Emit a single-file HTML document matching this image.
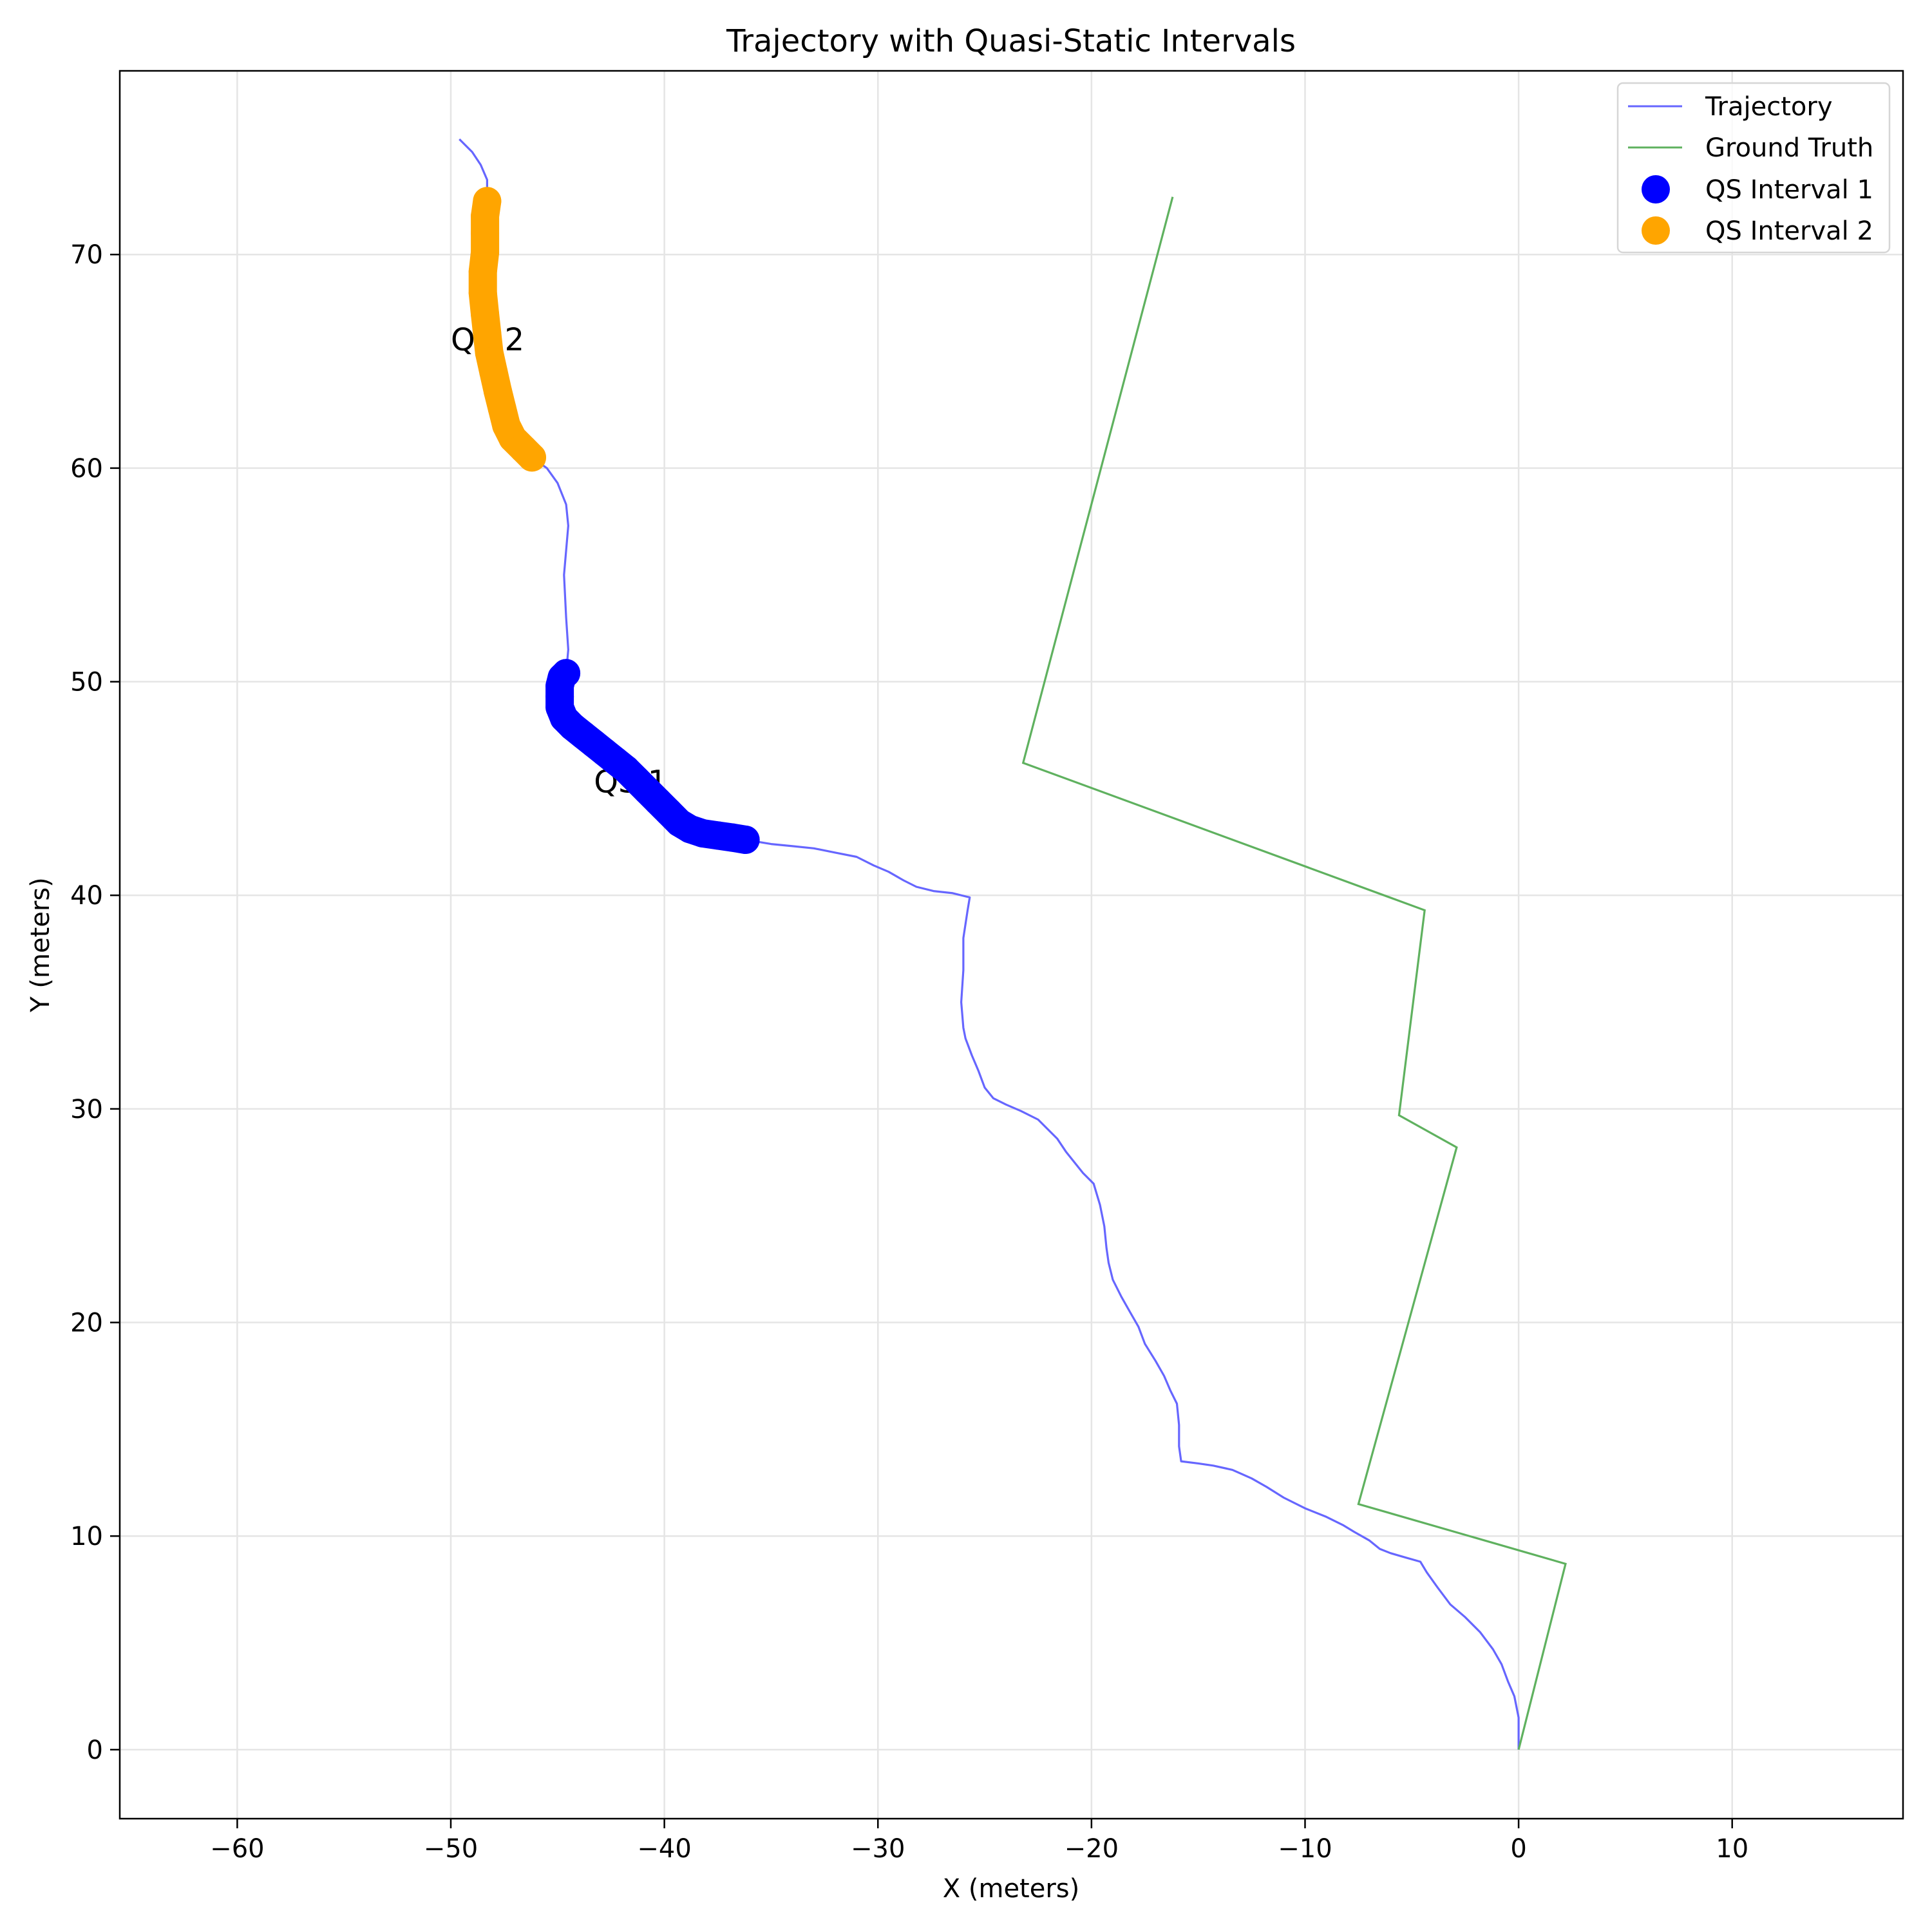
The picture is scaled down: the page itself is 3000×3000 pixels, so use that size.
<!DOCTYPE html>
<html><head><meta charset="utf-8">
<style>
html,body{margin:0;padding:0;background:#fff;}
svg{display:block;}
text{font-family:"DejaVu Sans","Liberation Sans",sans-serif;}
</style></head>
<body>
<svg id="chart" xmlns="http://www.w3.org/2000/svg" width="3000" height="3000" viewBox="0 0 3000 3000">
<rect width="3000" height="3000" fill="#fff"/>
<g id="grid"></g>
<g id="plot"></g>
<rect x="186" y="110" width="2769" height="2714" fill="none" stroke="#000" stroke-width="2.5"/>
<g id="axes"></g>
<text x="1570" y="80" font-size="48" text-anchor="middle">Trajectory with Quasi-Static Intervals</text>
<text x="1570" y="2946" font-size="40" text-anchor="middle">X (meters)</text>
<text x="76" y="1467" font-size="40" text-anchor="middle" transform="rotate(-90 76 1467)">Y (meters)</text>
<g>
<rect x="2512" y="129" width="422" height="263" rx="8" fill="#fff" fill-opacity="0.8" stroke="#d6d6d6" stroke-width="2.5"/>
<line x1="2528" y1="165" x2="2612" y2="165" stroke="#6666ff" stroke-width="3"/>
<text x="2648" y="179" font-size="40">Trajectory</text>
<line x1="2528" y1="229" x2="2612" y2="229" stroke="#5fb15f" stroke-width="3"/>
<text x="2648" y="243" font-size="40">Ground Truth</text>
<circle cx="2571" cy="294" r="22" fill="#0000ff"/>
<text x="2648" y="308" font-size="40">QS Interval 1</text>
<circle cx="2571" cy="358" r="22" fill="#ffa500"/>
<text x="2648" y="372" font-size="40">QS Interval 2</text>
</g>
</svg>
<script>
const xTicks=[-60,-50,-40,-30,-20,-10,0,10];
const yTicks=[0,10,20,30,40,50,60,70];
const trajX=[0,0,-0.2,-0.5,-0.8,-1.2,-1.8,-2.5,-3.2,-3.8,-4.3,-4.6,-5.3,-6,-6.5,-7,-7.7,-8.2,-9,-10,-11,-11.8,-12.5,-13.4,-14.3,-15,-15.8,-15.9,-15.9,-16,-16.3,-16.6,-17,-17.5,-17.8,-18.2,-18.6,-19,-19.2,-19.3,-19.4,-19.6,-19.9,-20.4,-20.8,-21.2,-21.6,-22,-22.5,-23.3,-24,-24.6,-25,-25.3,-25.6,-25.9,-26,-26.1,-26,-26,-25.8,-25.7,-26.5,-27.4,-28.2,-28.8,-29.5,-30.2,-31,-32,-33,-34,-35,-36.2,-37,-38,-39,-40,-41,-42,-43,-44,-44.8,-44.9,-44.6,-44.5,-44.6,-44.7,-44.5,-44.6,-45,-45.5,-46.2,-47,-47.5,-47.8,-48.2,-48.4,-48.5,-48.4,-48.4,-48.3,-48.3,-48.6,-49,-49.6];
const trajY=[0,1.5,2.5,3.2,4,4.7,5.5,6.2,6.8,7.6,8.3,8.8,9,9.2,9.4,9.8,10.2,10.5,10.9,11.3,11.8,12.3,12.7,13.1,13.3,13.4,13.5,14.2,15.2,16.2,16.8,17.5,18.2,19,19.8,20.5,21.2,22,22.8,23.5,24.5,25.5,26.5,27,27.5,28,28.6,29,29.5,29.9,30.2,30.5,31,31.8,32.5,33.3,33.8,35,36.5,38,39.3,39.9,40.1,40.2,40.4,40.7,41.1,41.4,41.8,42,42.2,42.3,42.4,42.6,42.8,43,43.4,44.2,45.2,46.1,47,47.8,48.5,49.3,50.4,51.5,53,55,57.3,58.3,59.3,60,60.5,61.2,62,63.5,65,66.5,68,70,71.5,72.5,73.5,74.2,74.8,75.4];
const gtX=[0,2.2,-7.5,-2.9,-5.6,-4.4,-23.2,-16.2];
const gtY=[0,8.7,11.5,28.2,29.7,39.3,46.2,72.7];
const qs1X=[-36.2,-36.8,-37.5,-38.2,-38.8,-39.3,-39.8,-40.3,-40.8,-41.3,-41.8,-42.3,-42.8,-43.3,-43.8,-44.3,-44.7,-44.9,-44.9,-44.9,-44.8,-44.6];
const qs1Y=[42.6,42.7,42.8,42.9,43.1,43.4,43.9,44.4,44.9,45.4,45.9,46.3,46.7,47.1,47.5,47.9,48.3,48.8,49.3,49.8,50.2,50.4];
const qs2X=[-46.2,-46.6,-47.1,-47.4,-47.6,-47.8,-48,-48.2,-48.3,-48.4,-48.5,-48.5,-48.4,-48.4,-48.4,-48.3];
const qs2Y=[60.5,60.9,61.4,62,62.8,63.6,64.5,65.4,66.3,67.2,68.2,69.2,70.1,71,71.8,72.5];
const labels=["QS 1","QS 2"];
const labelX=[-43.3,-50];
const labelY=[45.3,66.0];

const NS="http://www.w3.org/2000/svg";
const L=186,R=2955,T=110,B=2824;
const xMin=-65.5,xMax=18.0,yMin=-3.23,yMax=78.6;
function sx(v){return L+(v-xMin)/(xMax-xMin)*(R-L);}
function sy(v){return B-(v-yMin)/(yMax-yMin)*(B-T);}
function mk(tag,attrs,parent){const e=document.createElementNS(NS,tag);for(const k in attrs)e.setAttribute(k,attrs[k]);parent.appendChild(e);return e;}
const grid=document.getElementById('grid'),plot=document.getElementById('plot'),axes=document.getElementById('axes');
xTicks.forEach(t=>{
  const g=mk('line',{x1:sx(t),x2:sx(t),y1:T,y2:B,stroke:'#e5e5e5','stroke-width':2.5},grid);
  
  
  const tk=mk('line',{x1:sx(t),x2:sx(t),y1:B,y2:B+15,stroke:'#000','stroke-width':2.5},axes);
  
  
  const tx=mk('text',{x:sx(t),y:B+60,'font-size':40,'text-anchor':'middle'},axes);
  tx.textContent=(t<0?'\u2212'+(-t):t);
  
  
});
yTicks.forEach(t=>{
  const g=mk('line',{x1:L,x2:R,y1:sy(t),y2:sy(t),stroke:'#e5e5e5','stroke-width':2.5},grid);
  
  
  const tk=mk('line',{x1:L-15,x2:L,y1:sy(t),y2:sy(t),stroke:'#000','stroke-width':2.5},axes);
  
  
  const tx=mk('text',{x:L-26,y:sy(t)+14,'font-size':40,'text-anchor':'end'},axes);
  tx.textContent=t;
  
  
});
function pts(xs,ys){return xs.map((v,i)=>sx(v).toFixed(1)+','+sy(ys[i]).toFixed(1)).join(' ');}
const tr=mk('polyline',{points:pts(trajX,trajY),fill:'none',stroke:'#6666ff','stroke-width':3.2,'stroke-linejoin':'round'},plot);


const gt=mk('polyline',{points:pts(gtX,gtY),fill:'none',stroke:'#5fb15f','stroke-width':3.2,'stroke-linejoin':'miter'},plot);


labels.forEach((s,i)=>{
  const t=mk('text',{x:sx(labelX[i]),y:sy(labelY[i])+16,'font-size':48},plot);
  t.textContent=s;
  
  
});
function qs(xs,ys,col,name){
  const band=mk('polyline',{points:pts(xs,ys),fill:'none',stroke:col,'stroke-width':44,'stroke-linecap':'round','stroke-linejoin':'round'},plot);
  
  
  xs.forEach((v,i)=>{
    const c=mk('circle',{cx:sx(v),cy:sy(ys[i]),r:22,fill:col},plot);
    
    
  });
}
qs(qs1X,qs1Y,'#0000ff','qs-interval-1');
qs(qs2X,qs2Y,'#ffa500','qs-interval-2');
</script>
</body></html>
